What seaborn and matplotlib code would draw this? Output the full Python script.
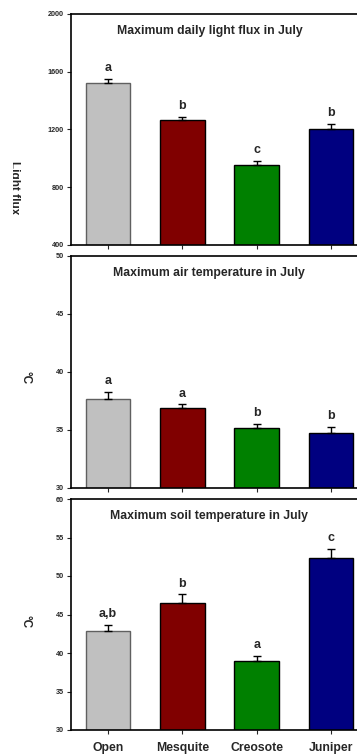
import matplotlib
matplotlib.use("Agg")
import matplotlib.pyplot as plt
from matplotlib.transforms import Bbox, TransformedBbox
import seaborn as sns
import numpy as np
import pandas as pd

sns.set_style("ticks")
plt.rcParams["font.family"] = ["Liberation Sans", "DejaVu Sans"]

sites = ["Open", "Mesquite", "Creosote", "Juniper"]
site_colors = ["#C0C0C0", "#800000", "#008000", "#000080"]

light_mean = [1520, 1263, 956, 1201]
light_se = [30, 27, 24, 35]
light_letters = ["a", "b", "c", "b"]

air_mean = [37.7, 36.9, 35.2, 34.7]
air_se = [0.6, 0.3, 0.35, 0.6]
air_letters = ["a", "a", "b", "b"]

soil_mean = [42.8, 46.5, 39.0, 52.4]
soil_se = [0.85, 1.1, 0.6, 1.1]
soil_letters = ["a,b", "b", "a", "c"]

panels = [
    dict(title="Maximum daily light flux in July", mean=light_mean, se=light_se,
         letters=light_letters, ylim=(400, 2000), ticks=[400, 800, 1200, 1600, 2000],
         ylabel="Light flux", label_x=20.5, label_y=188),
    dict(title="Maximum air temperature in July", mean=air_mean, se=air_se,
         letters=air_letters, ylim=(30, 50), ticks=[30, 35, 40, 45, 50],
         ylabel="°C", label_x=31.5, label_y=378),
    dict(title="Maximum soil temperature in July", mean=soil_mean, se=soil_se,
         letters=soil_letters, ylim=(30, 60), ticks=[30, 35, 40, 45, 50, 55, 60],
         ylabel="°C", label_x=31.5, label_y=622),
]

W, H = 357, 754
fig = plt.figure(figsize=(W / 100, H / 100), dpi=100)

# axes boxes in pixel units: (top, bottom)
boxes = [(14, 245), (256, 488), (499, 730)]
ax_left, ax_right = 71, 368

# the y-axis titles are cut along a line near the left margin
label_clip = TransformedBbox(Bbox([[12.7 / W, 0], [1, 1]]), fig.transFigure)

for i, (p, (top, bot)) in enumerate(zip(panels, boxes)):
    ax = fig.add_axes([ax_left / W, 1 - bot / H, (ax_right - ax_left) / W, (bot - top) / H])
    df = pd.DataFrame({"site": sites, "value": p["mean"]})
    sns.barplot(data=df, x="site", y="value", hue="site", palette=site_colors,
                order=sites, errorbar=None, width=0.6, legend=False, saturation=1,
                edgecolor="black", linewidth=1.0, ax=ax)
    ax.patches[0].set_edgecolor("#606060")
    x = np.arange(len(sites))
    ax.errorbar(x, p["mean"], yerr=[np.zeros(len(sites)), p["se"]], fmt="none",
                ecolor="black", elinewidth=1.0, capsize=3, capthick=1.0)
    for xi, m, s, lab in zip(x, p["mean"], p["se"], p["letters"]):
        ax.annotate(lab, (xi, m + s), xytext=(0, 3.5), textcoords="offset points",
                    ha="center", va="bottom", fontsize=9, fontweight="bold")
    ax.set_xlim(-0.5, 3.5)
    ax.set_ylim(*p["ylim"])
    ax.set_yticks(p["ticks"])
    ax.set_yticklabels([str(t) for t in p["ticks"]], fontsize=5.2, fontweight="bold")
    ax.tick_params(axis="y", length=3, width=0.8, pad=2)
    ax.tick_params(axis="x", length=3, width=0.8, pad=5.5)
    ax.set_xticks(x)
    if i == 2:
        ax.set_xticklabels(sites, fontsize=8.8, fontweight="bold")
    else:
        ax.set_xticklabels([])
    ax.set_xlabel("")
    ax.set_ylabel("")
    for side in ["left", "bottom", "top"]:
        ax.spines[side].set_linewidth(1.2)
        ax.spines[side].set_color("black")
    ax.spines["right"].set_visible(False)
    ax.text(0.466, 1 - 17 / (bot - top), p["title"], transform=ax.transAxes,
            ha="center", va="center", fontsize=8.8, fontweight="bold")
    t = fig.text(p["label_x"] / W, 1 - p["label_y"] / H, p["ylabel"], rotation=270,
                 ha="right", va="center", fontsize=8.5, fontweight="bold")
    t.set_clip_box(label_clip)
    t.set_clip_on(True)

fig.savefig("out.png", dpi=100)
